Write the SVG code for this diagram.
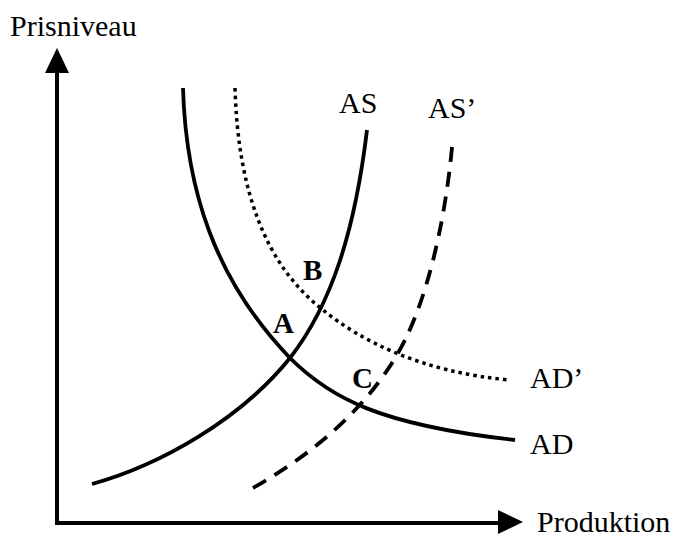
<svg xmlns="http://www.w3.org/2000/svg" width="677" height="537" viewBox="0 0 677 537">
<style>
.lbl{font-family:"Liberation Serif","Times New Roman",serif;font-size:30px;fill:#000}
.pt{font-family:"Liberation Serif","Times New Roman",serif;font-size:29px;font-weight:bold;fill:#000}
.axis{stroke:#000;stroke-width:4;fill:none}
.curve{stroke:#000;stroke-width:3.8;fill:none}
.dash{stroke-dasharray:15 10}
.dot{stroke-dasharray:3.5 4;stroke-width:3.5}
</style>
<rect width="677" height="537" fill="#fff"/>
<g id="axes">
<path class="axis" d="M57,523 V70 M55,523 H500"/>
<polygon points="57,48 45,73 69,73" fill="#000"/>
<polygon points="523,522 498,510 498,534" fill="#000"/>
</g>
<g id="connectors">
<path id="AD" class="curve" d="M183,88 C186,190 215,280 290,358 C330,398 380,425 515,440"/>
<path id="ADp" class="curve dot" d="M235,88 C238,190 265,265 323,310 C360,340 420,372 510,380"/>
<path id="AS" class="curve" d="M92,484 C160,465 240,420 290,358 C332,304 355,230 367,130"/>
<path id="ASp" class="curve dash" d="M253,488 C320,450 375,400 405,340 C425,300 445,230 453,137"/>
</g>
<g id="labels">
<text class="lbl" x="10" y="36">Prisniveau</text>
<text class="lbl" x="537" y="532">Produktion</text>
<text class="lbl" x="339" y="113">AS</text>
<text class="lbl" x="428" y="118">AS’</text>
<text class="lbl" x="530" y="388">AD’</text>
<text class="lbl" x="530" y="454">AD</text>
</g>
<g id="points">
<text class="pt" x="303" y="280">B</text>
<text class="pt" x="273" y="333">A</text>
<text class="pt" x="352" y="388">C</text>
</g>
</svg>
